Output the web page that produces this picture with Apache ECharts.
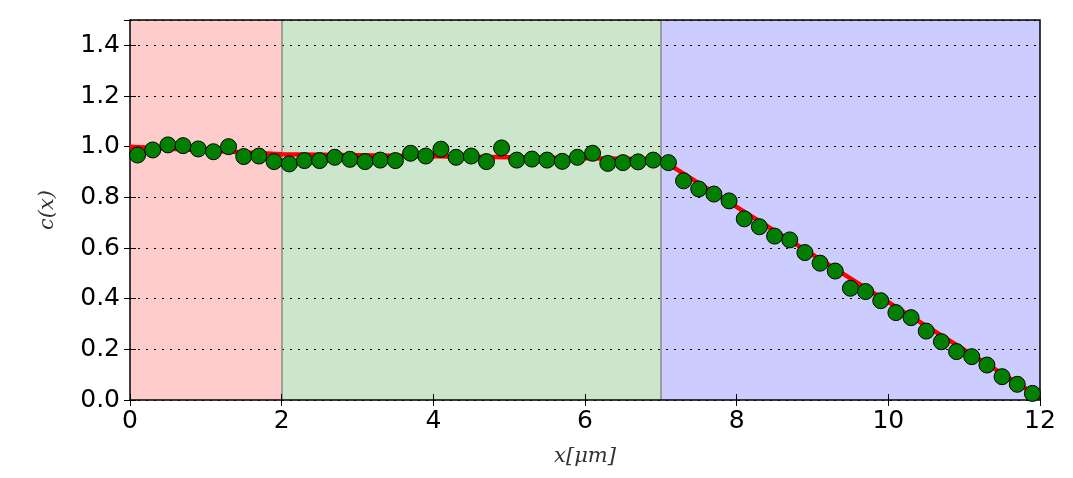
<!DOCTYPE html>
<html><head><meta charset="utf-8">
<script src="https://cdn.jsdelivr.net/npm/echarts@6/dist/echarts.min.js"></script>
<style>html,body{margin:0;padding:0;background:#fff}#c{width:1073px;height:478px}</style>
</head><body><div id="c"></div>
<script>
const pointX = [0.1,0.3,0.5,0.7,0.9,1.1,1.3,1.5,1.7,1.9,
 2.1,2.3,2.5,2.7,2.9,3.1,3.3,3.5,3.7,3.9,4.1,4.3,4.5,4.7,4.9,5.1,5.3,5.5,5.7,5.9,6.1,6.3,6.5,6.7,6.9,
 7.1,7.3,7.5,7.7,7.9,8.1,8.3,8.5,8.7,8.9,9.1,9.3,9.5,9.7,9.9,10.1,10.3,10.5,10.7,10.9,11.1,11.3,11.5,11.7,11.9];
const pointY = [0.967,0.987,1.007,1.004,0.991,0.980,1.000,0.961,0.963,0.941,
 0.932,0.945,0.945,0.958,0.950,0.941,0.947,0.945,0.974,0.963,0.990,0.958,0.963,0.941,0.995,0.947,0.951,0.947,0.942,0.958,0.974,0.934,0.937,0.940,0.947,
 0.937,0.865,0.833,0.813,0.786,0.715,0.684,0.647,0.632,0.582,0.540,0.509,0.441,0.428,0.392,0.345,0.325,0.272,0.230,0.191,0.171,0.138,0.092,0.062,0.026];
const fitX = [0, 2, 7, 12];
const fitY = [1.0, 0.97, 0.95, 0.01];
const regionBounds = [0, 2, 7, 12];
const regionColors = ['rgba(255,0,0,0.2)','rgba(0,128,0,0.2)','rgba(0,0,255,0.2)'];
const dividers = [2, 7];
const xTicks = {min: 0, max: 12, step: 2};
const yTicks = {min: 0, max: 1.5, step: 0.2};

const chart = echarts.init(document.getElementById('c'), null, {renderer: 'canvas'});
const labelFont = {fontFamily: 'DejaVu Sans', fontSize: 25, color: '#000'};
const tickStyle = {show: true, inside: true, length: 6, lineStyle: {color: '#000', width: 1}};
const fmtY = v => v.toFixed(1);
chart.setOption({
  animation: false,
  grid: {left: 130, right: 33, top: 20, bottom: 78, containLabel: false, outerBoundsMode: 'none',
         show: true, borderColor: '#000', borderWidth: 1.5, backgroundColor: 'transparent', z: 6},
  xAxis: [
    {type: 'value', min: xTicks.min, max: xTicks.max, interval: xTicks.step, position: 'bottom', z: 6,
     axisLine: {show: false}, axisTick: tickStyle, splitLine: {show: false},
     axisLabel: Object.assign({margin: 9, showMinLabel: true, showMaxLabel: true}, labelFont),
     name: 'x[μm]', nameLocation: 'middle', nameGap: 46,
     nameTextStyle: {fontFamily: 'DejaVu Serif', fontStyle: 'italic', fontSize: 21, color: '#333'}},
    {type: 'value', min: xTicks.min, max: xTicks.max, interval: xTicks.step, position: 'top', z: 6,
     axisLine: {show: false}, axisTick: tickStyle, axisLabel: {show: false}, splitLine: {show: false}}
  ],
  yAxis: [
    {type: 'value', min: yTicks.min, max: yTicks.max, interval: yTicks.step, position: 'left', z: 3,
     axisLine: {show: false}, axisTick: tickStyle,
     splitLine: {show: true, lineStyle: {color: '#000', width: 1, type: [2, 6]}},
     axisLabel: Object.assign({margin: 10, formatter: fmtY, showMaxLabel: false}, labelFont),
     name: 'c(x)', nameLocation: 'middle', nameGap: 72, nameRotate: 90,
     nameTextStyle: {fontFamily: 'DejaVu Serif', fontStyle: 'italic', fontSize: 21, color: '#333'}},
    {type: 'value', min: yTicks.min, max: yTicks.max, interval: yTicks.step, position: 'right', z: 6,
     axisLine: {show: false}, axisTick: tickStyle, axisLabel: {show: false}, splitLine: {show: false}}
  ],
  series: [
    {type: 'line', data: [], z: 1, silent: true,
     markArea: {silent: true, data: regionColors.map((c, i) => [
       {xAxis: regionBounds[i], itemStyle: {color: c}}, {xAxis: regionBounds[i + 1]}])},
     markLine: {silent: true, symbol: 'none', label: {show: false},
       lineStyle: {color: '#888', width: 1.5, type: 'solid'},
       data: dividers.map(d => ({xAxis: d}))}},
    {type: 'line', z: 7, data: fitX.map((x, i) => [x, fitY[i]]), showSymbol: false,
     lineStyle: {color: '#ff0000', width: 4.5}, silent: true},
    {type: 'scatter', z: 8, data: pointX.map((x, i) => [x, pointY[i]]), symbolSize: 16,
     itemStyle: {color: '#007f00', borderColor: '#000', borderWidth: 1, opacity: 1}}
  ]
});
</script></body></html>
